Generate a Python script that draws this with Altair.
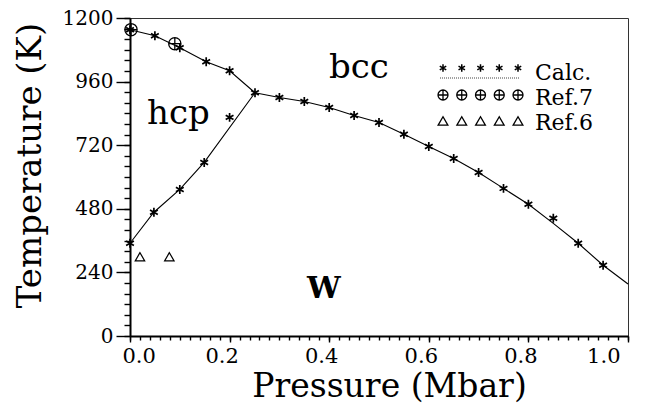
import altair as alt
import pandas as pd

# ---------------- data ----------------
# phase boundary lines: hcp-bcc, hcp-W, bcc-W
hcp_bcc_P = [0.0, 0.05, 0.10, 0.153, 0.20, 0.251]
hcp_bcc_T = [1156, 1133, 1088, 1035, 1001, 918]
hcp_w_P = [0.0, 0.048, 0.10, 0.149, 0.251]
hcp_w_T = [350, 467, 553, 655, 918]
bcc_w_P = [0.251, 0.30, 0.35, 0.40, 0.45, 0.50, 0.55, 0.60, 0.65, 0.70,
           0.75, 0.80, 0.85, 0.90, 0.95, 1.0]
bcc_w_T = [918, 900, 885, 862, 832, 806, 761, 715, 670, 617,
           557, 497, 425, 350, 267, 196]

# calculated points (stars)
calc_P = [0.0, 0.05, 0.10, 0.153, 0.20, 0.251,
          0.0, 0.048, 0.10, 0.149, 0.20,
          0.30, 0.35, 0.40, 0.45, 0.50, 0.55, 0.60, 0.65, 0.70,
          0.75, 0.80, 0.85, 0.90, 0.95]
calc_T = [1156, 1133, 1088, 1035, 1001, 918,
          350, 467, 553, 655, 825,
          900, 885, 862, 832, 806, 761, 715, 670, 617,
          557, 497, 444, 350, 267]

# Ref.7 (circle-plus) and Ref.6 (triangles)
ref7_P = [0.002, 0.09]
ref7_T = [1156, 1103]
ref6_P = [0.02, 0.079]
ref6_T = [299, 299]

x_ticks = [0.0, 0.2, 0.4, 0.6, 0.8, 1.0]
y_ticks = [0, 240, 480, 720, 960, 1200]
x_minor = [round(i * 0.02, 2) for i in range(51)]
y_minor = list(range(0, 1201, 40))

legend_labels = ["Calc.", "Ref.7", "Ref.6"]
region_labels = ["bcc", "hcp", "W"]

# ---------------- layout ----------------
W, H = 498, 318
TOP = 10
FONT = "DejaVu Serif"
STAR = "M0,-1L0,1M-0.87,-0.5L0.87,0.5M-0.87,0.5L0.87,-0.5"
OPLUS = "M-1,0A1,1,0,1,0,1,0A1,1,0,1,0,-1,0ZM-1,0L1,0M0,-1L0,1"

xs = alt.Scale(domain=[0, 1], nice=False, zero=False)
ys = alt.Scale(domain=[0, 1200], nice=False, zero=False)


def px2P(px):
    return px / W


def py2T(py):
    return 1200 * (1 - py / H)


lines = pd.DataFrame({
    "P": hcp_bcc_P + hcp_w_P + bcc_w_P,
    "T": hcp_bcc_T + hcp_w_T + bcc_w_T,
    "seg": ["a"] * len(hcp_bcc_P) + ["b"] * len(hcp_w_P) + ["c"] * len(bcc_w_P),
})
lines["o"] = range(len(lines))
calc = pd.DataFrame({"P": calc_P, "T": calc_T})
ref7 = pd.DataFrame({"P": ref7_P, "T": ref7_T})
ref6 = pd.DataFrame({"P": ref6_P, "T": ref6_T})

# legend symbol positions (pixel layout converted to data space)
lx = [313 + i * 18.75 for i in range(5)]
leg_star = pd.DataFrame({"P": [px2P(v) for v in lx], "T": [py2T(50)] * 5})
leg_o = pd.DataFrame({"P": [px2P(v) for v in lx], "T": [py2T(77)] * 5})
leg_tri = pd.DataFrame({"P": [px2P(v) for v in lx], "T": [py2T(103)] * 5})

line_layer = alt.Chart(lines).mark_line(color="black", strokeWidth=1.1).encode(
    x=alt.X("P:Q", scale=xs, axis=alt.Axis(
        values=x_ticks, format=".1f", tickSize=6, labelPadding=3,
        labelOffset=-8, title="Pressure (Mbar)", titleX=259, titleY=60,
        titleFontSize=33,
        titleBaseline="alphabetic", titleAlign="center", orient="bottom")),
    y=alt.Y("T:Q", scale=ys, axis=alt.Axis(
        values=y_ticks, format="d", tickSize=14, labelPadding=3,
        labelFontSize=20,
        title="Temperature (K)", titleX=-90, titleY=147, titleAngle=270,
        titleBaseline="alphabetic", titleAlign="center", orient="left")),
    detail="seg:N",
    order="o:Q",
)

minor_layer = alt.Chart(ref6).mark_point(
    shape="triangle-up", filled=False, color="black", size=90, strokeWidth=1.2,
    opacity=1
).encode(
    x=alt.X("P:Q", scale=xs, axis=alt.Axis(
        values=x_minor, labels=False, domain=False, tickSize=4, title=None,
        orient="bottom")),
    y=alt.Y("T:Q", scale=ys, axis=alt.Axis(
        values=y_minor, labels=False, domain=False, tickSize=6, title=None,
        orient="left")),
)


def pts(df, shape, size, sw):
    return alt.Chart(df).mark_point(
        shape=shape, filled=False, color="black", size=size, strokeWidth=sw,
        opacity=1
    ).encode(
        x=alt.X("P:Q", scale=xs, axis=None),
        y=alt.Y("T:Q", scale=ys, axis=None),
    )


calc_layer = pts(calc, STAR, 80, 1.7)
ref7_layer = pts(ref7, OPLUS, 150, 1.3)
leg_star_layer = pts(leg_star, STAR, 55, 1.5)
leg_o_layer = pts(leg_o, OPLUS, 100, 1.3)
leg_tri_layer = pts(leg_tri, "triangle-up", 95, 1.3)

underline = alt.Chart(pd.DataFrame({"a": [0]})).mark_rule(
    color="#444", strokeWidth=1, strokeDash=[1, 1]
).encode(x=alt.value(310), x2=alt.value(390), y=alt.value(60))


def txt(s, x, y, size, weight="normal"):
    return alt.Chart(pd.DataFrame({"t": [s]})).mark_text(
        font=FONT, fontSize=size, fontWeight=weight, color="black",
        align="left", baseline="alphabetic"
    ).encode(text="t:N", x=alt.value(x), y=alt.value(y))


texts = [
    txt(region_labels[0], 199, 60, 34),
    txt(region_labels[1], 17, 106, 34),
    txt(region_labels[2], 177, 280, 30, "bold"),
    txt(legend_labels[0], 405, 62, 22),
    txt(legend_labels[1], 405, 87, 22),
    txt(legend_labels[2], 405, 112, 22),
]

chart = alt.layer(
    line_layer, minor_layer, calc_layer, ref7_layer,
    leg_star_layer, leg_o_layer, leg_tri_layer, underline, *texts
).resolve_axis(x="independent", y="independent").properties(
    width=W, height=H,
    background="white",
    autosize=alt.AutoSizeParams(type="none"),
    padding={"left": 122, "top": TOP, "right": 9, "bottom": 67},
).configure_view(
    stroke="#333", strokeWidth=1
).configure_axis(
    grid=False, domainColor="black", domainWidth=2, tickColor="black",
    tickWidth=1.4, labelFont=FONT, labelFontSize=21, labelColor="black",
    titleFont=FONT, titleFontSize=34, titleFontWeight="normal",
    titleColor="black",
)

chart.save("out.html", embed_options={"renderer": "svg", "actions": False})
